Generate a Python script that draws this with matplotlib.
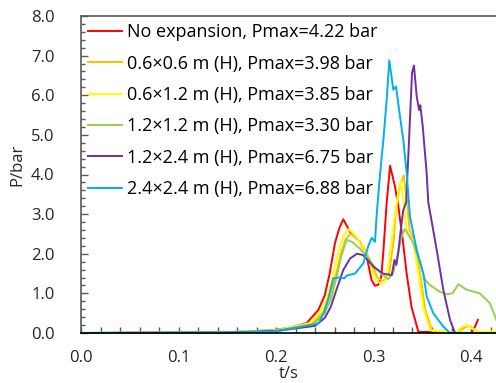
import matplotlib
matplotlib.use("Agg")
from matplotlib import pyplot as plt
from matplotlib.ticker import MultipleLocator, FormatStrFormatter

plt.rcParams['font.family'] = ['Open Sans', 'DejaVu Sans']

labels = ["No expansion, Pmax=4.22 bar",
          "0.6×0.6 m (H), Pmax=3.98 bar",
          "0.6×1.2 m (H), Pmax=3.85 bar",
          "1.2×1.2 m (H), Pmax=3.30 bar",
          "1.2×2.4 m (H), Pmax=6.75 bar",
          "2.4×2.4 m (H), Pmax=6.88 bar"]
colors = ["#FF0000", "#FFC000", "#FFFF00", "#92D050", "#7030A0", "#00B0F0"]

# 无泄爆
t_red = [0, 0.15, 0.18, 0.20, 0.215, 0.2315, 0.2434, 0.250, 0.255, 0.2605, 0.265, 0.269,
         0.276, 0.283, 0.286, 0.293, 0.298, 0.3015, 0.305, 0.308, 0.310, 0.3135, 0.317,
         0.322, 0.3255, 0.330, 0.334, 0.339, 0.346, 0.400, 0.404, 0.407]
p_red = [0, 0.02, 0.05, 0.08, 0.14, 0.25, 0.58, 0.95, 1.5, 2.27, 2.65, 2.87,
         2.55, 2.38, 2.3, 1.93, 1.34, 1.19, 1.22, 1.42, 2.02, 3.28, 4.22,
         3.7, 3.19, 2.35, 1.5, 0.66, 0.03, 0.0, 0.15, 0.33]

# 0.6x0.6
t_orange = [0, 0.15, 0.20, 0.237, 0.248, 0.255, 0.261, 0.266, 0.271, 0.276, 0.282, 0.290,
            0.298, 0.304, 0.310, 0.316, 0.321, 0.3228, 0.327, 0.331, 0.334, 0.337, 0.342,
            0.348, 0.353, 0.360, 0.386, 0.392, 0.398, 0.404, 0.410]
p_orange = [0, 0.02, 0.06, 0.24, 0.52, 0.9, 1.42, 1.95, 2.35, 2.5, 2.42, 2.15,
            1.75, 1.4, 1.3, 1.5, 2.4, 3.06, 3.7, 3.98, 3.4, 2.6, 2.3,
            1.45, 0.6, 0.05, 0.0, 0.12, 0.18, 0.08, 0.0]

# 0.6x1.2
t_yellow = [0, 0.15, 0.20, 0.235, 0.246, 0.253, 0.259, 0.264, 0.269, 0.274, 0.280, 0.288,
            0.296, 0.302, 0.308, 0.313, 0.318, 0.322, 0.325, 0.328, 0.331, 0.334, 0.3405,
            0.346, 0.351, 0.358, 0.385, 0.390, 0.396, 0.400, 0.410, 0.426]
p_yellow = [0, 0.02, 0.07, 0.25, 0.55, 0.95, 1.5, 2.05, 2.45, 2.62, 2.5, 2.2,
            1.8, 1.35, 1.24, 1.35, 2.2, 3.0, 3.5, 3.85, 3.3, 2.52, 2.35,
            1.5, 0.66, 0.08, 0.0, 0.15, 0.2, 0.12, 0.02, 0.05]

# 1.2x1.2
t_green = [0, 0.15, 0.20, 0.238, 0.250, 0.257, 0.262, 0.267, 0.2725, 0.278, 0.285, 0.293,
           0.300, 0.308, 0.315, 0.320, 0.325, 0.329, 0.332, 0.334, 0.341, 0.3477, 0.353,
           0.358, 0.368, 0.375, 0.381, 0.387, 0.3955, 0.402, 0.409, 0.4195, 0.426]
p_green = [0, 0.02, 0.06, 0.22, 0.5, 0.9, 1.4, 1.95, 2.35, 2.3, 2.15, 1.95,
           1.7, 1.5, 1.36, 1.5, 2.0, 2.45, 2.62, 2.56, 2.26, 1.76, 1.34,
           1.21, 1.04, 0.98, 1.0, 1.23, 1.09, 1.05, 1.0, 0.75, 0.33]

# 1.2x2.4
t_purple = [0, 0.15, 0.20, 0.240, 0.250, 0.256, 0.262, 0.269, 0.276, 0.283, 0.289, 0.295,
            0.300, 0.305, 0.310, 0.3187, 0.3215, 0.3235, 0.3255, 0.3275, 0.3305, 0.3335,
            0.3365, 0.3395, 0.3415, 0.3443, 0.3467, 0.3480, 0.3505, 0.3545, 0.3562, 0.3648,
            0.3716, 0.3785, 0.3836, 0.426]
p_purple = [0, 0.01, 0.05, 0.18, 0.38, 0.65, 1.09, 1.59, 1.88, 2.0, 1.97, 1.82,
            1.67, 1.58, 1.5, 1.46, 1.84, 1.72, 2.05, 2.5, 3.1, 3.3,
            4.9, 6.56, 6.75, 5.97, 5.63, 5.75, 5.21, 4.04, 3.3, 2.1,
            1.09, 0.33, 0.0, 0.0]

# 2.4x2.4
t_blue = [0, 0.15, 0.20, 0.2434, 0.249, 0.254, 0.2588, 0.2656, 0.270, 0.2725, 0.281, 0.2896,
          0.2947, 0.2981, 0.3015, 0.3033, 0.3067, 0.3101, 0.3135, 0.3162, 0.3203, 0.3231,
          0.3272, 0.3306, 0.3340, 0.3374, 0.3443, 0.3511, 0.3546, 0.3613, 0.3716, 0.3785, 0.426]
p_blue = [0, 0.01, 0.04, 0.24, 0.5, 0.9, 1.38, 1.40, 1.38, 1.45, 1.5, 1.76,
          2.2, 2.4, 2.3, 3.0, 4.0, 4.87, 5.88, 6.88, 6.14, 6.22,
          5.46, 4.87, 4.04, 2.94, 2.1, 1.5, 0.92, 0.5, 0.16, 0.0, 0.0]

series = [(t_red, p_red), (t_orange, p_orange), (t_yellow, p_yellow),
          (t_green, p_green), (t_purple, p_purple), (t_blue, p_blue)]

fig = plt.figure(figsize=(4.96, 3.83), dpi=100)
ax = fig.add_axes([81/496, 50/383, 415/496, 317/383])

for (t, p), c, lab in zip(series, colors, labels):
    ax.plot(t, p, color=c, lw=1.4, label=lab, clip_on=False)

ax.set_xlim(0, 415/975)
ax.set_ylim(0, 8)
ax.xaxis.set_major_locator(MultipleLocator(0.1))
ax.xaxis.set_minor_locator(MultipleLocator(0.02))
ax.yaxis.set_major_locator(MultipleLocator(1.0))
ax.yaxis.set_minor_locator(MultipleLocator(0.2))
ax.xaxis.set_major_formatter(FormatStrFormatter('%.1f'))
ax.yaxis.set_major_formatter(FormatStrFormatter('%.1f'))

ax.tick_params(axis='both', which='both', direction='in', colors='#595959',
               labelcolor='#262626', labelsize=12)
ax.tick_params(axis='x', which='both', length=4, width=1, pad=12)
ax.tick_params(axis='y', which='major', length=5, width=1, pad=19)
ax.tick_params(axis='y', which='minor', length=3, width=1)

ax.spines['right'].set_visible(False)
ax.spines['top'].set_color('#595959')
ax.spines['left'].set_color('#595959')
ax.spines['bottom'].set_color('#000000')
for s in ['top', 'left', 'bottom']:
    ax.spines[s].set_linewidth(1.2)

ax.set_xlabel("t/s", fontsize=12, color='#262626')
ax.xaxis.set_label_coords(0.5, -0.104)
ax.set_ylabel("P/bar", fontsize=12, color='#262626')
ax.yaxis.set_label_coords(-0.135, 0.53)

ax.legend(loc='upper left', frameon=False, fontsize=13, handlelength=1.85,
          handletextpad=0.28, labelspacing=0.74, borderaxespad=0.3,
          borderpad=0.1)

fig.savefig("out.png", dpi=100)
